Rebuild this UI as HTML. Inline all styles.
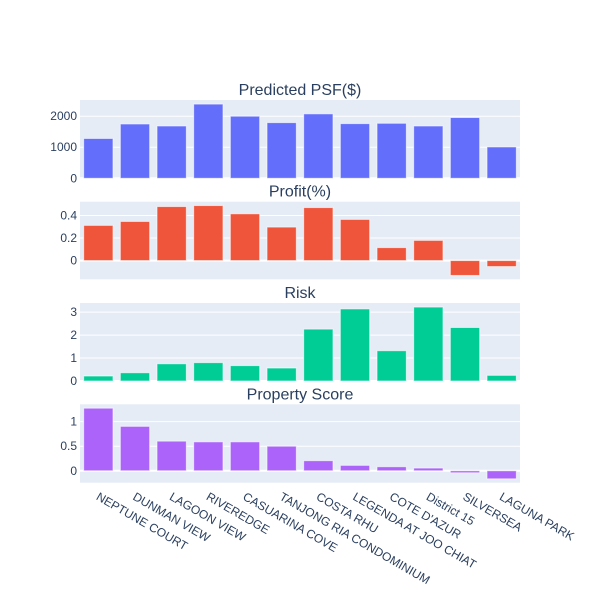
<!DOCTYPE html>
<html><head><meta charset="utf-8"><style>body{margin:0;background:#fff}svg text{font-family:"Liberation Sans",sans-serif;fill:#2a3f5f}</style></head>
<body>
<svg id="chart" width="600" height="600"></svg>
<script>
const categories=["NEPTUNE COURT","DUNMAN VIEW","LAGOON VIEW","RIVEREDGE","CASUARINA COVE","TANJONG RIA CONDOMINIUM","COSTA RHU","LEGENDA AT JOO CHIAT","COTE D'AZUR","District 15","SILVERSEA","LAGUNA PARK"];
const psfValues=[1283,1750,1685,2390,2000,1793,2076,1761,1772,1685,1957,1011];
const profitValues=[0.312,0.347,0.479,0.488,0.415,0.297,0.47,0.365,0.115,0.179,-0.132,-0.053];
const riskValues=[0.217,0.36,0.75,0.8,0.67,0.565,2.26,3.14,1.32,3.22,2.33,0.246];
const scoreValues=[1.274,0.904,0.603,0.589,0.589,0.5,0.205,0.11,0.082,0.055,-0.041,-0.164];
const psfTicks=[0,1000,2000];
const profitTicks=[0,0.2,0.4];
const riskTicks=[0,1,2,3];
const scoreTicks=[0,0.5,1];

const NS="http://www.w3.org/2000/svg";
const svg=document.getElementById('chart');
function mk(tag,attrs,parent){const e=document.createElementNS(NS,tag);for(const k in attrs)e.setAttribute(k,attrs[k]);(parent||svg).appendChild(e);return e;}
const X0=80,X1=520,bw=(X1-X0)/categories.length;
function xScale(i){return X0+bw*(i+0.5);}
function pad(vals){let mn=Math.min(0,...vals),mx=Math.max(0,...vals);const r=mx-mn;
  return [mn<0?mn-r*0.055:0, mx+r*0.055];}
const panels=[
 {name:'psf',title:'Predicted PSF($)',vals:psfValues,ticks:psfTicks,color:'#636efa',top:100,bot:178.3},
 {name:'profit',title:'Profit(%)',vals:profitValues,ticks:profitTicks,color:'#EF553B',top:201.7,bot:279.3},
 {name:'risk',title:'Risk',vals:riskValues,ticks:riskTicks,color:'#00cc96',top:303,bot:381},
 {name:'score',title:'Property Score',vals:scoreValues,ticks:scoreTicks,color:'#ab63fa',top:404.3,bot:482.7}
];
panels.forEach(p=>{
  const [lo,hi]=pad(p.vals);
  const y=v=>p.bot-(v-lo)/(hi-lo)*(p.bot-p.top);
  const g=mk('g',{});
  
  
  const bg=mk('rect',{x:X0,y:p.top,width:X1-X0,height:p.bot-p.top,fill:'#E5ECF6'},g);
  
  
  p.ticks.forEach(t=>{
    const ln=mk('line',{x1:X0,x2:X1,y1:y(t),y2:y(t),stroke:'#fff','stroke-width':t===0?2:1},g);
    
    
    const tx=mk('text',{x:X0-3,y:y(t)+4,'text-anchor':'end','font-size':12},g);
    tx.textContent=String(t);
    
    
  });
  p.vals.forEach((v,i)=>{
    const y0=y(0),y1=y(v);
    const r=mk('rect',{x:xScale(i)-bw*0.4,y:Math.min(y0,y1),width:bw*0.8,height:Math.abs(y1-y0),fill:p.color,stroke:'rgba(255,255,255,0.6)','stroke-width':1},g);
    
    
  });
  const tt=mk('text',{x:300,y:p.top-5,'text-anchor':'middle','font-size':16},g);
  tt.textContent=p.title;
  
  
});
categories.forEach((c,i)=>{
  const cx=xScale(i)-3, cy=499;
  const t=mk('text',{x:cx,y:cy,'font-size':12,transform:`rotate(30 ${cx} ${cy})`});
  t.textContent=c;
  
  
});
</script>
</body></html>
